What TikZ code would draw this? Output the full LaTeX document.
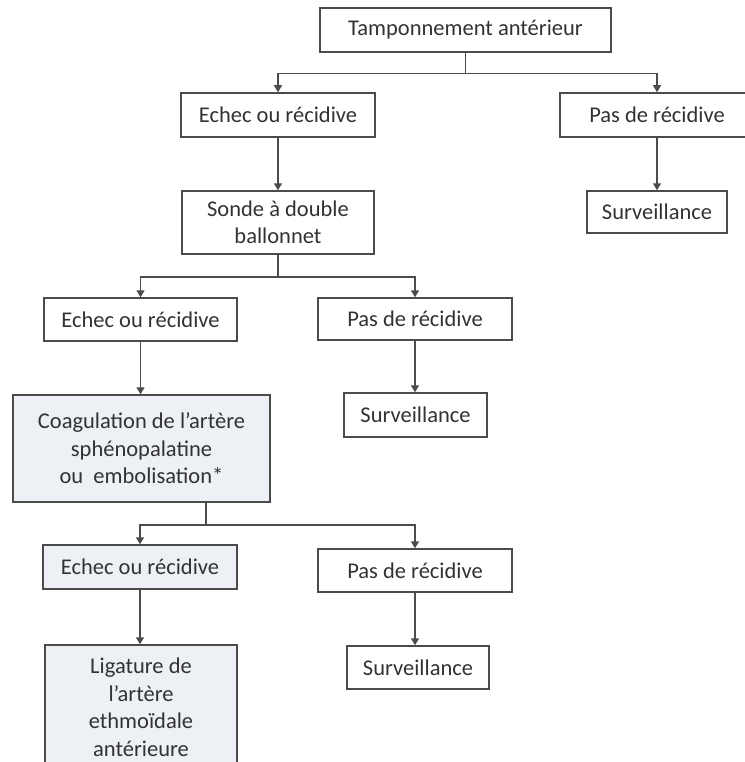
\documentclass[tikz,border=0pt]{standalone}
\usepackage{fontspec}
\setmainfont{Carlito}
\usetikzlibrary{arrows.meta}

\definecolor{boxline}{RGB}{75,75,75}
\definecolor{boxtext}{RGB}{50,50,50}
\definecolor{boxfill}{RGB}{237,240,244}

\tikzset{
    stage/.style={draw=boxline, line width=1.5pt, text=boxtext, align=center,
        inner sep=0pt, font=\fontsize{22.5}{27.5}\selectfont},
    stagegrey/.style={stage, fill=boxfill},
    link/.style={draw=boxline, line width=1.5pt},
    linkarrow/.style={link, -{Triangle[width=8pt,length=7pt]}}
}

\begin{document}
\begin{tikzpicture}[x=1pt, y=-1pt]
        \useasboundingbox (0,0) rectangle (744,762);

        \node[stage, minimum width=291pt, minimum height=44pt] (tamp) at (465.5,30) {Tamponnement antérieur};
        \node[stage, minimum width=194pt, minimum height=44pt] (echecA) at (278,115) {Echec ou récidive};
        \node[stage, minimum width=194pt, minimum height=44pt] (pasA) at (657,115) {Pas de récidive};
        \node[stage, minimum width=192pt, minimum height=63pt] (sonde) at (278,222.5) {Sonde à double\\ballonnet};
        \node[stage, minimum width=140pt, minimum height=42pt] (survA) at (657,212) {Surveillance};

        \node[stage, minimum width=193pt, minimum height=43pt] (echecB) at (140.5,319.5) {Echec ou récidive};
        \node[stage, minimum width=194pt, minimum height=42pt] (pasB) at (415,319) {Pas de récidive};
        \node[stagegrey, minimum width=257pt, minimum height=107pt] (coag) at (141.5,448.5) {Coagulation de l’artère\\sphénopalatine\\ou~ embolisation*};
        \node[stage, minimum width=143pt, minimum height=44pt] (survB) at (415.5,415) {Surveillance};

        \node[stagegrey, minimum width=194pt, minimum height=44pt] (echecC) at (140,567) {Echec ou récidive};
        \node[stage, minimum width=194pt, minimum height=43pt] (pasC) at (415,570.5) {Pas de récidive};
        \node[stagegrey, minimum width=192pt, minimum height=125pt] (lig) at (141,707.5) {Ligature de\\l’artère\\ethmoïdale\\antérieure};
        \node[stage, minimum width=142pt, minimum height=43pt] (survC) at (418,667.5) {Surveillance};

        \draw[link] (tamp.south) -- ++(0,21) coordinate (forkA);
        \draw[linkarrow] (forkA) -| (echecA.north);
        \draw[linkarrow] (forkA) -| (pasA.north);
        \draw[linkarrow] (echecA.south) -- (echecA.south |- sonde.north);
        \draw[linkarrow] (pasA.south) -- (pasA.south |- survA.north);

        \draw[link] (sonde.south) -- ++(0,22) coordinate (forkB);
        \draw[linkarrow] (forkB) -| (echecB.north);
        \draw[linkarrow] (forkB) -| (pasB.north);
        \draw[linkarrow] (echecB.south) -- (echecB.south |- coag.north);
        \draw[linkarrow] (pasB.south) -- (pasB.south |- survB.north);

        \coordinate (forkC) at (206,525);
        \draw[link] (forkC |- coag.south) -- (forkC);
        \draw[linkarrow] (forkC) -| (echecC.north);
        \draw[linkarrow] (forkC) -| (pasC.north);
        \draw[linkarrow] (echecC.south) -- (echecC.south |- lig.north);
        \draw[linkarrow] (pasC.south) -- (pasC.south |- survC.north);
    \end{tikzpicture}
\end{document}
